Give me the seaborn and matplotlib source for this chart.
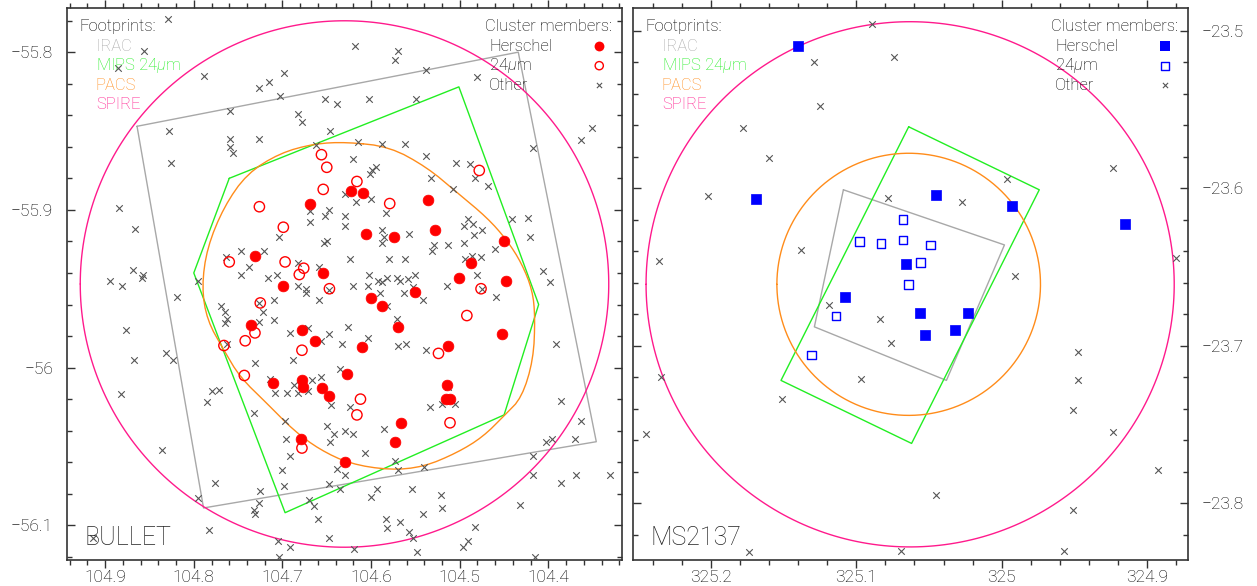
import numpy as np
import pandas as pd
import matplotlib
matplotlib.use("Agg")
import matplotlib.pyplot as plt
import seaborn as sns
from matplotlib.ticker import MultipleLocator, FuncFormatter

# ---------------- BULLET (left panel) ----------------
bullet_herschel_ra = [104.669, 104.731, 104.654, 104.699, 104.736, 104.678, 104.623, 104.609, 104.536,
                      104.606, 104.574, 104.528, 104.450, 104.487, 104.501, 104.448, 104.551, 104.600,
                      104.588, 104.570, 104.663, 104.711, 104.678, 104.677, 104.655, 104.647, 104.627,
                      104.679, 104.629, 104.452, 104.610, 104.513, 104.514, 104.515, 104.511, 104.566,
                      104.573]
bullet_herschel_dec = [-55.896, -55.929, -55.940, -55.948, -55.973, -55.976, -55.888, -55.889, -55.894,
                       -55.915, -55.917, -55.913, -55.920, -55.934, -55.943, -55.945, -55.952, -55.956,
                       -55.961, -55.974, -55.983, -56.010, -56.008, -56.012, -56.013, -56.018, -56.004,
                       -56.045, -56.060, -55.979, -55.987, -55.986, -56.011, -56.020, -56.020, -56.035,
                       -56.047]

bullet_24um_ra = [104.656, 104.650, 104.654, 104.726, 104.699, 104.760, 104.697, 104.676, 104.681,
                  104.647, 104.725, 104.478, 104.616, 104.579, 104.476, 104.492, 104.731, 104.742,
                  104.766, 104.678, 104.743, 104.678, 104.524, 104.612, 104.616, 104.511]
bullet_24um_dec = [-55.865, -55.873, -55.887, -55.898, -55.911, -55.933, -55.933, -55.937, -55.941,
                   -55.950, -55.959, -55.875, -55.882, -55.896, -55.950, -55.967, -55.978, -55.983,
                   -55.986, -55.989, -56.005, -56.051, -55.991, -56.020, -56.030, -56.035]

bullet_other_ra = [104.829, 104.856, 104.886, 104.789, 104.727, 104.715, 104.698, 104.703, 104.570,
                   104.573, 104.538, 104.480, 104.549, 104.602, 104.652, 104.639, 104.618, 104.828,
                   104.759, 104.683, 104.678, 104.646, 104.759, 104.726, 104.759, 104.756, 104.662,
                   104.826, 104.884, 104.866, 104.629, 104.669, 104.647, 104.652, 104.669, 104.629,
                   104.629, 104.704, 104.653, 104.650, 104.747, 104.721, 104.764, 104.683, 104.659,
                   104.747, 104.738, 104.716, 104.706, 104.683, 104.673, 104.673, 104.659, 104.868,
                   104.857, 104.858, 104.895, 104.881, 104.795, 104.819, 104.709, 104.769, 104.765,
                   104.762, 104.765, 104.722, 104.726, 104.709, 104.726, 104.647, 104.877, 104.615,
                   104.588, 104.562, 104.538, 104.620, 104.504, 104.488, 104.594, 104.599, 104.601,
                   104.532, 104.483, 104.468, 104.508, 104.617, 104.600, 104.583, 104.491, 104.495,
                   104.485, 104.588, 104.586, 104.588, 104.557, 104.475, 104.484, 104.529, 104.531,
                   104.513, 104.495, 104.460, 104.624, 104.580, 104.562, 104.494, 104.486, 104.476,
                   104.441, 104.423, 104.421, 104.417, 104.363, 104.351, 104.602, 104.620, 104.604,
                   104.592, 104.588, 104.582, 104.571, 104.567, 104.558, 104.550, 104.590, 104.563,
                   104.553, 104.542, 104.514, 104.480, 104.475, 104.459, 104.582, 104.571, 104.626,
                   104.406, 104.398, 104.831, 104.823, 104.867, 104.882, 104.785, 104.780, 104.771,
                   104.762, 104.731, 104.691, 104.671, 104.647, 104.656, 104.633, 104.688, 104.714,
                   104.708, 104.695, 104.687, 104.683, 104.671, 104.667, 104.657, 104.635, 104.645,
                   104.732, 104.697, 104.696, 104.691, 104.650, 104.642, 104.646, 104.629, 104.836,
                   104.700, 104.698, 104.725, 104.726, 104.732, 104.731, 104.795, 104.776, 104.670,
                   104.664, 104.660, 104.647, 104.635, 104.639, 104.630, 104.783, 104.705, 104.691,
                   104.704, 104.647, 104.914, 104.604, 104.570, 104.561, 104.538, 104.392, 104.624,
                   104.533, 104.520, 104.505, 104.513, 104.620, 104.586, 104.607, 104.573, 104.570,
                   104.540, 104.593, 104.600, 104.554, 104.521, 104.520, 104.541, 104.583, 104.567,
                   104.582, 104.557, 104.553, 104.483, 104.491, 104.496, 104.619, 104.548, 104.432,
                   104.417, 104.417, 104.386, 104.363, 104.403, 104.396, 104.370, 104.386, 104.369,
                   104.330, 104.415]
bullet_other_dec = [-55.779, -55.799, -55.810, -55.815, -55.823, -55.819, -55.813, -55.828, -55.799,
                    -55.805, -55.811, -55.816, -55.830, -55.830, -55.830, -55.833, -55.796, -55.850,
                    -55.837, -55.839, -55.844, -55.850, -55.855, -55.855, -55.860, -55.864, -55.859,
                    -55.870, -55.899, -55.912, -55.890, -55.901, -55.900, -55.904, -55.908, -55.904,
                    -55.910, -55.917, -55.921, -55.920, -55.926, -55.926, -55.930, -55.934, -55.936,
                    -55.941, -55.936, -55.943, -55.941, -55.948, -55.950, -55.953, -55.957, -55.938,
                    -55.941, -55.943, -55.945, -55.948, -55.945, -55.955, -55.957, -55.961, -55.965,
                    -55.969, -55.972, -55.965, -55.971, -55.970, -55.959, -55.951, -55.976, -55.857,
                    -55.858, -55.858, -55.866, -55.868, -55.870, -55.871, -55.873, -55.875, -55.877,
                    -55.880, -55.880, -55.885, -55.887, -55.895, -55.893, -55.902, -55.906, -55.910,
                    -55.909, -55.913, -55.917, -55.921, -55.915, -55.913, -55.916, -55.922, -55.926,
                    -55.922, -55.921, -55.925, -55.931, -55.931, -55.931, -55.931, -55.929, -55.930,
                    -55.906, -55.905, -55.917, -55.861, -55.856, -55.848, -55.941, -55.948, -55.948,
                    -55.945, -55.946, -55.943, -55.943, -55.945, -55.944, -55.941, -55.953, -55.953,
                    -55.949, -55.957, -55.948, -55.941, -55.950, -55.955, -55.961, -55.969, -55.974,
                    -55.939, -55.946, -55.991, -55.995, -55.995, -56.017, -56.022, -56.015, -56.014,
                    -55.985, -55.997, -55.978, -55.975, -55.979, -55.983, -55.985, -55.995, -56.007,
                    -56.016, -56.016, -56.011, -56.016, -56.015, -56.008, -56.006, -56.001, -56.024,
                    -56.029, -56.034, -56.045, -56.056, -56.037, -56.042, -56.047, -56.040, -56.052,
                    -56.065, -56.075, -56.078, -56.086, -56.090, -56.093, -56.083, -56.073, -56.084,
                    -56.088, -56.096, -56.074, -56.077, -56.064, -56.068, -56.103, -56.110, -56.114,
                    -56.120, -56.108, -56.108, -55.981, -55.986, -55.985, -55.989, -55.985, -56.025,
                    -56.025, -56.023, -56.023, -56.012, -56.042, -56.039, -56.054, -56.059, -56.065,
                    -56.063, -56.077, -56.082, -56.077, -56.081, -56.089, -56.093, -56.096, -56.098,
                    -56.102, -56.104, -56.108, -56.101, -56.110, -56.114, -56.115, -56.117, -56.087,
                    -56.056, -56.068, -56.021, -56.034, -56.047, -56.045, -56.045, -56.073, -56.068,
                    -56.068, -56.120]

# footprints (RA, Dec vertices)
bullet_irac_ra = [104.864, 104.434, 104.346, 104.789]
bullet_irac_dec = [-55.847, -55.800, -56.047, -56.089]
bullet_mips_ra = [104.760, 104.501, 104.411, 104.450, 104.697, 104.800]
bullet_mips_dec = [-55.880, -55.822, -55.960, -56.030, -56.092, -55.940]
bullet_pacs_ra = [104.627, 104.579, 104.537, 104.503, 104.469, 104.447, 104.430, 104.418, 104.415,
                  104.417, 104.430, 104.449, 104.474, 104.503, 104.541, 104.579, 104.624, 104.658,
                  104.687, 104.717, 104.748, 104.766, 104.785, 104.791, 104.785, 104.766, 104.740,
                  104.703, 104.664]
bullet_pacs_dec = [-55.857, -55.860, -55.873, -55.889, -55.905, -55.919, -55.934, -55.951, -55.968,
                   -55.995, -56.019, -56.030, -56.044, -56.054, -56.063, -56.065, -56.061, -56.052,
                   -56.040, -56.023, -56.006, -55.989, -55.970, -55.949, -55.924, -55.898, -55.877,
                   -55.864, -55.858]
bullet_spire_center = (104.630, -55.947)
bullet_spire_radius = 0.1669

# ---------------- MS2137 (right panel) ----------------
ms_herschel_ra = [325.140, 325.169, 325.045, 324.993, 324.915, 325.066, 325.108, 325.056, 325.023,
                  325.053, 325.032]
ms_herschel_dec = [-23.510, -23.607, -23.604, -23.611, -23.623, -23.648, -23.669, -23.679, -23.679,
                   -23.693, -23.690]
ms_24um_ra = [325.068, 325.098, 325.083, 325.068, 325.049, 325.056, 325.064, 325.114, 325.131]
ms_24um_dec = [-23.620, -23.634, -23.635, -23.633, -23.636, -23.647, -23.661, -23.681, -23.706]
ms_other_ra = [325.089, 325.074, 325.129, 325.125, 325.178, 325.160, 325.202, 325.078, 324.996,
               324.923, 325.245, 325.151, 325.174, 325.069, 325.045, 324.951, 324.923, 324.892,
               324.951, 324.957, 325.236, 325.235, 324.880, 324.991, 324.947, 324.947, 325.027,
               325.138, 325.119, 325.084, 325.076, 325.097]
ms_other_dec = [-23.496, -23.517, -23.520, -23.548, -23.562, -23.581, -23.605, -23.606, -23.594,
                -23.587, -23.756, -23.734, -23.831, -23.830, -23.795, -23.741, -23.755, -23.779,
                -23.804, -23.830, -23.646, -23.720, -23.644, -23.656, -23.704, -23.722, -23.609,
                -23.639, -23.674, -23.683, -23.698, -23.721]

ms_irac_ra = [325.109, 324.998, 325.038, 325.129]
ms_irac_dec = [-23.601, -23.636, -23.722, -23.688]
ms_mips_ra = [325.064, 324.974, 325.062, 325.152]
ms_mips_dec = [-23.561, -23.601, -23.762, -23.722]
ms_pacs_center = (325.064, -23.661)
ms_pacs_radius = 0.0832
ms_spire_center = (325.063, -23.661)
ms_spire_radius = 0.1667

C_IRAC = "#a8a8a8"
C_MIPS = "#22ee22"
C_PACS = "#ff8c1a"
C_SPIRE = "#ff1a8c"
C_RED = "#ff0000"
C_BLUE = "#0000ff"
C_X = "#555555"
C_TXT = "#000000"

sns.set_style("white")
plt.rcParams["font.family"] = ["Roboto", "DejaVu Sans"]
plt.rcParams["font.weight"] = "light"
plt.rcParams["mathtext.fontset"] = "custom"
plt.rcParams["mathtext.rm"] = "Roboto:light"
plt.rcParams["mathtext.it"] = "Roboto:italic:light"

MU = "$\\mu$"


def circle(center, radius, n=300):
    t = np.linspace(0, 2 * np.pi, n)
    ra0, dec0 = center
    ra = ra0 + radius * np.cos(t) / np.cos(np.radians(dec0))
    dec = dec0 + radius * np.sin(t)
    return ra, dec


def closed(a):
    return list(a) + [a[0]]


def smooth_closed(xs, ys, n_iter=2):
    # Chaikin corner cutting on a closed outline
    x = np.asarray(xs, float)
    y = np.asarray(ys, float)
    for _ in range(n_iter):
        x2, y2 = np.roll(x, -1), np.roll(y, -1)
        x = np.column_stack([0.75 * x + 0.25 * x2, 0.25 * x + 0.75 * x2]).ravel()
        y = np.column_stack([0.75 * y + 0.25 * y2, 0.25 * y + 0.75 * y2]).ravel()
    return closed(list(x)), closed(list(y))


def style_axis(ax, xlim, ylim, ylabel_right):
    ax.set_xlim(*xlim)
    ax.set_ylim(*ylim)
    ax.set_xlabel("")
    ax.set_ylabel("")
    ax.xaxis.set_major_locator(MultipleLocator(0.1))
    ax.xaxis.set_minor_locator(MultipleLocator(0.02))
    ax.yaxis.set_major_locator(MultipleLocator(0.1))
    ax.yaxis.set_minor_locator(MultipleLocator(0.02))
    fmt = FuncFormatter(lambda v, p: ("%g" % round(v, 3)).replace("-", "\u2212"))
    ax.xaxis.set_major_formatter(fmt)
    ax.yaxis.set_major_formatter(fmt)
    ax.tick_params(axis="x", which="both", direction="out", top=True, bottom=True,
                   labelsize=12.5, colors="#333333", labelcolor=C_TXT, pad=1.5)
    ax.tick_params(axis="y", which="both", direction="in", left=True, right=True,
                   labelsize=12.5, colors="#333333", labelcolor=C_TXT, pad=10,
                   labelleft=not ylabel_right, labelright=ylabel_right)
    ax.tick_params(which="major", length=6, width=1)
    ax.tick_params(which="minor", length=3.5, width=1)
    for s in ax.spines.values():
        s.set_color("#333333")
        s.set_linewidth(1.2)


def draw_panel(ax, herschel, mips24, other, filled_marker, color, name, footprints, xlim, ylim,
               ylabel_right):
    irac, mips, pacs, spire = footprints
    ax.plot(closed(irac[0]), closed(irac[1]), color=C_IRAC, lw=1)
    ax.plot(closed(mips[0]), closed(mips[1]), color=C_MIPS, lw=1)
    ax.plot(pacs[0], pacs[1], color=C_PACS, lw=1)
    ax.plot(spire[0], spire[1], color=C_SPIRE, lw=1)

    df_o = pd.DataFrame({"ra": other[0], "dec": other[1]})
    df_h = pd.DataFrame({"ra": herschel[0], "dec": herschel[1]})
    df_m = pd.DataFrame({"ra": mips24[0], "dec": mips24[1]})
    sns.scatterplot(data=df_o, x="ra", y="dec", ax=ax, marker="x", color=C_X, s=22,
                    linewidth=0.8, zorder=3)
    sns.scatterplot(data=df_m, x="ra", y="dec", ax=ax, marker=filled_marker, color=color,
                    facecolors="none", edgecolor=color, s=55 if filled_marker == "o" else 38,
                    linewidth=1.0, zorder=4)
    sns.scatterplot(data=df_h, x="ra", y="dec", ax=ax, marker=filled_marker, color=color,
                    edgecolor=color, s=60, linewidth=0.5, zorder=5)

    style_axis(ax, xlim, ylim, ylabel_right)

    # key, top left
    tf = ax.transAxes
    ax.text(0.022, 0.966, "Footprints:", transform=tf, fontsize=12, color=C_TXT, va="center")
    for i, (lab, c) in enumerate([("IRAC", C_IRAC), ("MIPS 24" + MU + "m", C_MIPS),
                                  ("PACS", C_PACS), ("SPIRE", C_SPIRE)]):
        ax.text(0.052, 0.931 - i * 0.0355, lab, transform=tf, fontsize=12, color=c, va="center")
    # key, top right
    ax.text(0.982, 0.966, "Cluster members:", transform=tf, fontsize=12, color=C_TXT,
            va="center", ha="right")
    labels = ["Herschel", "24" + MU + "m", "Other"]
    for i, lab in enumerate(labels):
        yy = 0.931 - i * 0.0355
        ax.text(0.761, yy, lab, transform=tf, fontsize=12, color=C_TXT, va="center")
    ax.scatter([0.959], [0.931], transform=tf, marker=filled_marker, s=50, color=color, lw=0,
               clip_on=False)
    ax.scatter([0.959], [0.931 - 0.0355], transform=tf, marker=filled_marker, s=35,
               facecolors="none", edgecolors=color, lw=1.0, clip_on=False)
    ax.scatter([0.959], [0.931 - 0.071], transform=tf, marker="x", s=14, color=C_X, lw=0.8,
               clip_on=False)
    ax.text(0.032, 0.04, name, transform=tf, fontsize=18, color="#222222", va="center")


fig = plt.figure(figsize=(12.57, 5.86), dpi=100)
ax1 = fig.add_axes([67 / 1257, 26 / 586, 555 / 1257, 552 / 586])
ax2 = fig.add_axes([633 / 1257, 26 / 586, 555 / 1257, 552 / 586])

draw_panel(ax1,
           (bullet_herschel_ra, bullet_herschel_dec),
           (bullet_24um_ra, bullet_24um_dec),
           (bullet_other_ra, bullet_other_dec),
           "o", C_RED, "BULLET",
           ((bullet_irac_ra, bullet_irac_dec), (bullet_mips_ra, bullet_mips_dec),
            smooth_closed(bullet_pacs_ra, bullet_pacs_dec),
            circle(bullet_spire_center, bullet_spire_radius)),
           (104.943, 104.317), (-56.122, -55.772), False)

draw_panel(ax2,
           (ms_herschel_ra, ms_herschel_dec),
           (ms_24um_ra, ms_24um_dec),
           (ms_other_ra, ms_other_dec),
           "s", C_BLUE, "MS2137",
           ((ms_irac_ra, ms_irac_dec), (ms_mips_ra, ms_mips_dec),
            circle(ms_pacs_center, ms_pacs_radius),
            circle(ms_spire_center, ms_spire_radius)),
           (325.254, 324.8715), (-23.836, -23.4856), True)

fig.savefig("out.png", dpi=100)
